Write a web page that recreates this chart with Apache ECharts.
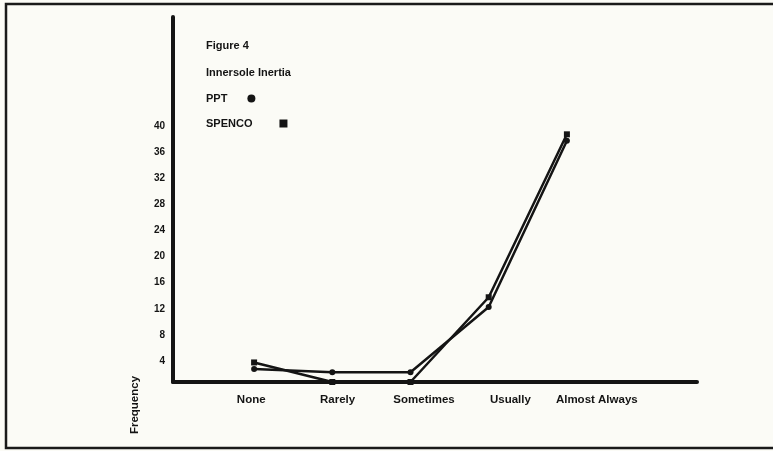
<!DOCTYPE html>
<html>
<head>
<meta charset="utf-8">
<script src="https://cdn.jsdelivr.net/npm/echarts@6/dist/echarts.min.js"></script>
<style>
  html, body { margin: 0; padding: 0; background: #fbfbf6; }
  #chart { width: 773px; height: 451px; }
</style>
</head>
<body>
<div id="chart"></div>
<script>
// categories on the horizontal axis
var categories = ['None', 'Rarely', 'Sometimes', 'Usually', 'Almost Always'];
var pptValues = [2, 1.5, 1.5, 11.5, 37];
var spencoValues = [3, 0, 0, 13, 38];
var yTicksShown = [4, 8, 12, 16, 20, 24, 28, 32, 36, 40];

var FONT = 'Liberation Sans';
var INK = '#141414';

var chart = echarts.init(document.getElementById('chart'));

// hidden y axis for the helper grids
function hiddenY(gridIndex) {
  return {
    type: 'value', gridIndex: gridIndex, min: 0, max: 56, interval: 4,
    show: false
  };
}

// one legend per entry so the texts line up on the left
function legendFor(name, icon, top, gap) {
  return {
    orient: 'vertical', left: 201, top: top, align: 'right',
    itemWidth: 8, itemHeight: 8,
    textStyle: { fontFamily: FONT, fontSize: 11, fontWeight: 'bold', color: INK, padding: [0, gap, 0, 0] },
    data: [{ name: name, icon: icon }]
  };
}

var textStyle = { fontFamily: FONT, fontSize: 11, fontWeight: 'bold', color: INK };

chart.setOption({
  backgroundColor: '#fbfbf6',
  animation: false,
  title: [
    { text: 'Figure 4', left: 201, top: 35, textStyle: textStyle },
    { text: 'Innersole Inertia', left: 201, top: 62, textStyle: textStyle }
  ],
  legend: [
    legendFor('PPT', 'circle', 88, 15),
    legendFor('SPENCO', 'rect', 113, 22)
  ],
  grid: [
    // frame with the two thick axis lines
    { left: 173, top: 17, width: 524, height: 365 },
    // data
    { left: 215, top: 17, width: 391, height: 365 },
    // category labels
    { left: 208, top: 17, width: 432, height: 365 }
  ],
  xAxis: [
    {
      type: 'category', gridIndex: 0, data: categories,
      axisLine: { lineStyle: { color: INK, width: 4 } },
      axisTick: { show: false }, axisLabel: { show: false }
    },
    {
      type: 'category', gridIndex: 1, data: categories, boundaryGap: true,
      show: false
    },
    {
      type: 'category', gridIndex: 2, data: categories, boundaryGap: true,
      axisLine: { show: false }, axisTick: { show: false },
      axisLabel: { interval: 0, margin: 12, fontFamily: FONT, fontSize: 11.5, fontWeight: 'bold', color: INK }
    }
  ],
  yAxis: [
    {
      type: 'value', gridIndex: 0, min: 0, max: 56, interval: 4,
      axisLine: { show: true, lineStyle: { color: INK, width: 4 } },
      axisTick: { show: false },
      splitLine: { show: false },
      axisLabel: {
        margin: 8, verticalAlign: 'top', fontFamily: FONT, fontSize: 10, fontWeight: 'bold', color: INK,
        formatter: function (v) { return yTicksShown.indexOf(v) >= 0 ? String(v) : ''; }
      }
    },
    hiddenY(1),
    hiddenY(2)
  ],
  graphic: [
    {
      type: 'rect', silent: true, z: -1,
      shape: { x: 6, y: 4, width: 800, height: 444 },
      style: { fill: 'none', stroke: '#1a1a1a', lineWidth: 2.5 }
    },
    {
      type: 'text', x: 135, y: 405, rotation: Math.PI / 2,
      style: {
        text: 'Frequency', fontFamily: FONT, fontSize: 11.5, fontWeight: 'bold',
        fill: INK, align: 'center', verticalAlign: 'middle'
      }
    }
  ],
  series: [
    {
      name: 'PPT', type: 'line', xAxisIndex: 1, yAxisIndex: 1,
      data: pptValues,
      symbol: 'circle', symbolSize: 6,
      lineStyle: { color: INK, width: 2.5 },
      itemStyle: { color: INK }
    },
    {
      name: 'SPENCO', type: 'line', xAxisIndex: 1, yAxisIndex: 1,
      data: spencoValues,
      symbol: 'rect', symbolSize: 6,
      lineStyle: { color: INK, width: 2.5 },
      itemStyle: { color: INK }
    }
  ]
});
</script>
</body>
</html>
